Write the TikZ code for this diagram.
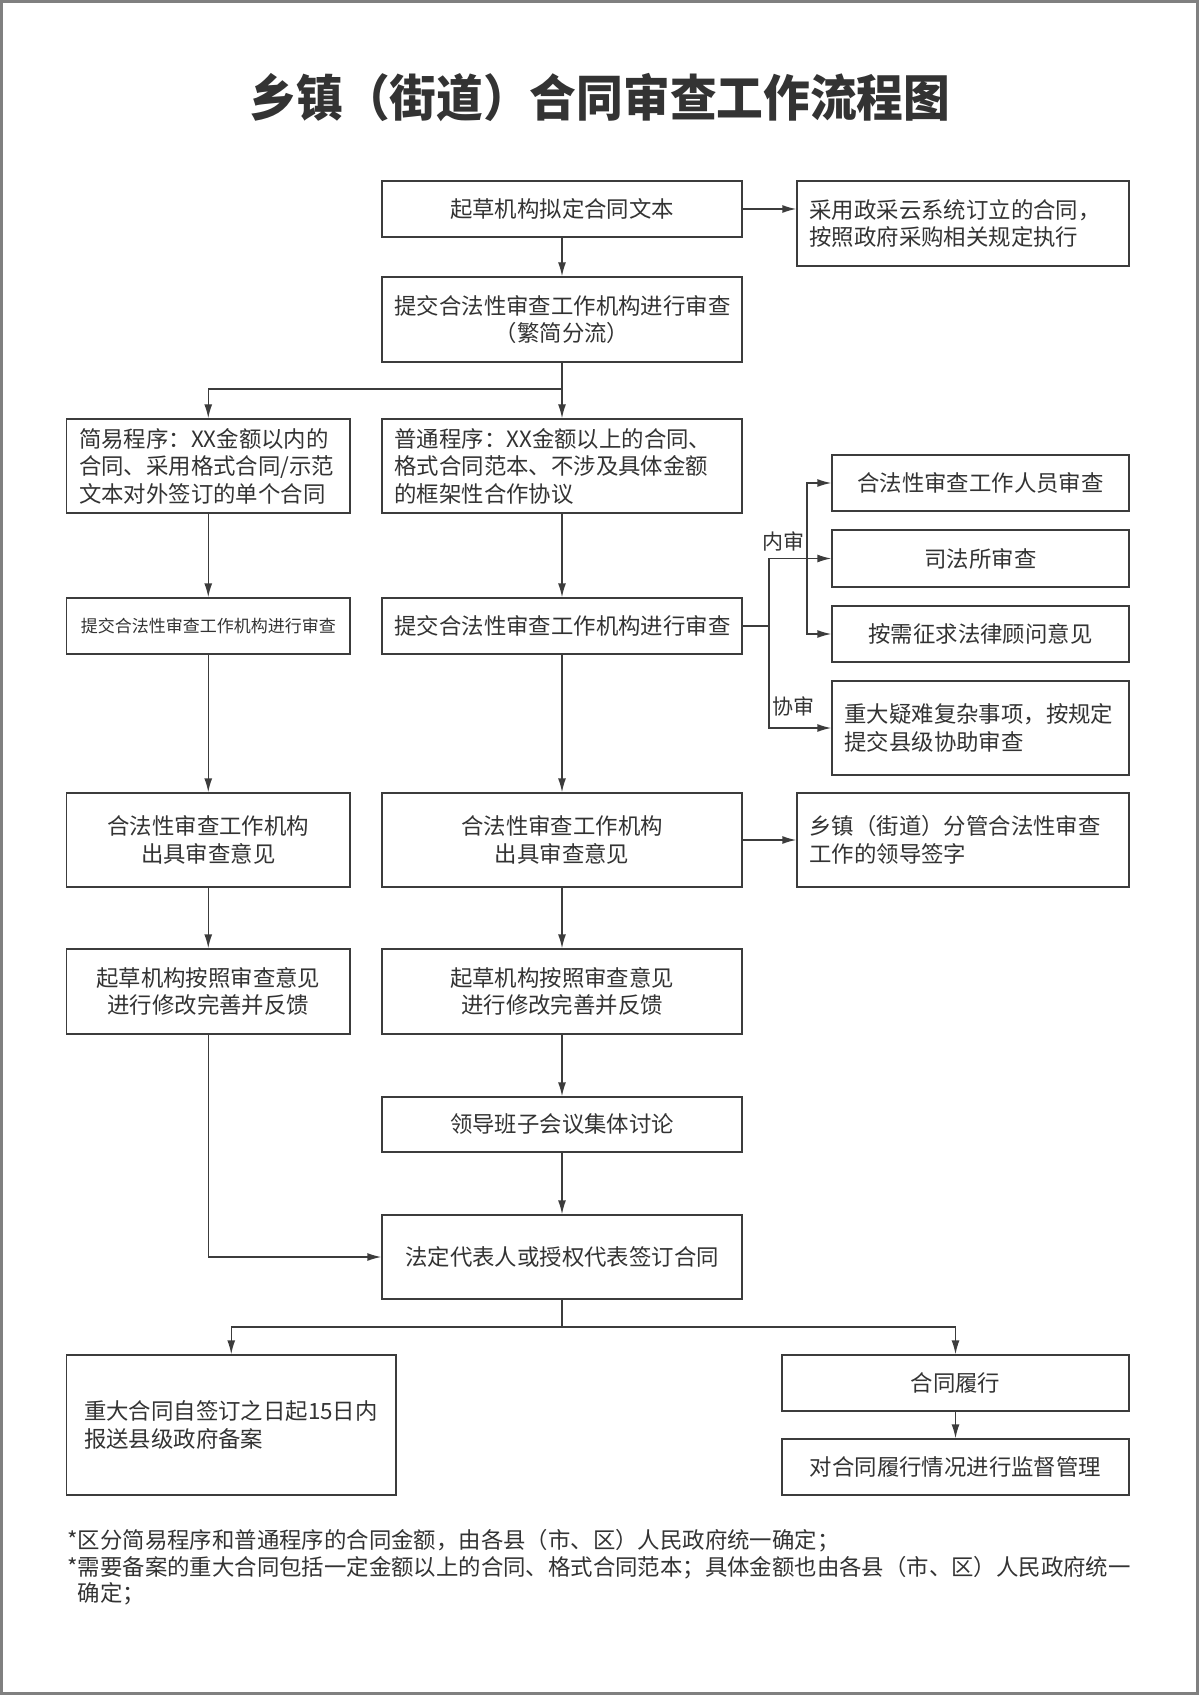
\documentclass[tikz,border=0pt]{standalone}
\usepackage{fontspec}
\setmainfont{Noto Sans CJK SC}
\usepackage{tikz}
\usetikzlibrary{
    arrows.meta,
    positioning,
    calc
}
\definecolor{linecol}{HTML}{3C3C3C}
\definecolor{textcol}{HTML}{333333}
\definecolor{framecol}{HTML}{808080}
\newcommand{\boxfont}{\fontsize{11.2}{13.75}\selectfont}
\newcommand{\smallboxfont}{\fontsize{8.5}{10.5}\selectfont}
\newcommand{\notefont}{\fontsize{11.2}{13.25}\selectfont}
\newcommand{\ttlfont}{\fontsize{24.85}{30}\selectfont\bfseries}
\tikzstyle{arrow} = [-{Latex[length=7pt,width=4pt]}, draw=linecol, line width=0.7pt]
\tikzstyle{conn} = [draw=linecol, line width=0.7pt]
\tikzstyle{box} = [draw=linecol, line width=0.7pt, text=textcol, font=\boxfont, inner xsep=6.25pt, inner ysep=0pt, align=center]
\tikzstyle{lbl} = [text=textcol, font=\fontsize{10.5}{12}\selectfont, inner sep=0pt]

\begin{document}
\begin{tikzpicture}[x=0.5pt, y=0.5pt]
    \useasboundingbox (0,0) rectangle (1199,-1695);
    \draw[framecol, line width=1.5pt] (1.5,-1.5) rectangle (1197.5,-1693.5);
    \node[text=textcol, font=\ttlfont, xscale=0.94, transform shape] (title) at (600,-98) {乡镇（街道）合同审查工作流程图};

    % top
    \node[box, text width=167.5pt, minimum height=28pt] (draft) at (562,-209) {起草机构拟定合同文本};
    \node[box, text width=153.5pt, minimum height=42.5pt, align=left] (zcy) at (963,-223.5) {采用政采云系统订立的合同，\\按照政府采购相关规定执行};
    \node[box, text width=167.5pt, minimum height=42.5pt] (submit) at (562,-319.5) {提交合法性审查工作机构进行审查\\（繁简分流）};

    % two procedures
    \node[box, text width=129.25pt, minimum height=47pt, align=left] (simple) at (208.25,-466) {简易程序：XX金额以内的\\合同、采用格式合同/示范\\文本对外签订的单个合同};
    \node[box, text width=167.5pt, minimum height=47pt, align=left] (normal) at (562,-466) {普通程序：XX金额以上的合同、\\格式合同范本、不涉及具体金额\\的框架性合作协议};
    \node[box, text width=129.25pt, minimum height=28pt, font=\smallboxfont] (simpsub) at (208.25,-626) {提交合法性审查工作机构进行审查};
    \node[box, text width=167.5pt, minimum height=28pt] (normsub) at (562,-626) {提交合法性审查工作机构进行审查};

    % review branches
    \node[box, text width=136pt, minimum height=28pt] (rev1) at (980.5,-483) {合法性审查工作人员审查};
    \node[box, text width=136pt, minimum height=28.5pt] (rev2) at (980.5,-558.5) {司法所审查};
    \node[box, text width=136pt, minimum height=28pt] (rev3) at (980.5,-634) {按需征求法律顾问意见};
    \node[box, text width=136pt, minimum height=47pt, align=left] (rev4) at (980.5,-728) {重大疑难复杂事项，按规定\\提交县级协助审查};
    \node[lbl] (inner) at (783,-541) {内审};
    \node[lbl] (assist) at (793,-706) {协审};

    % opinions
    \node[box, text width=129.25pt, minimum height=47pt] (simpop) at (208.25,-840) {合法性审查工作机构\\出具审查意见};
    \node[box, text width=167.5pt, minimum height=47pt] (normop) at (562,-840) {合法性审查工作机构\\出具审查意见};
    \node[box, text width=153.5pt, minimum height=47pt, align=left] (lead) at (963,-840) {乡镇（街道）分管合法性审查\\工作的领导签字};
    \node[box, text width=129.25pt, minimum height=42.5pt] (simprev) at (208.25,-991.5) {起草机构按照审查意见\\进行修改完善并反馈};
    \node[box, text width=167.5pt, minimum height=42.5pt] (normrev) at (562,-991.5) {起草机构按照审查意见\\进行修改完善并反馈};
    \node[box, text width=167.5pt, minimum height=27.5pt] (meeting) at (562,-1124.5) {领导班子会议集体讨论};
    \node[box, text width=167.5pt, minimum height=42pt] (sign) at (562,-1257) {法定代表人或授权代表签订合同};

    % bottom
    \node[box, text width=147.25pt, inner xsep=8.75pt, minimum height=70pt, align=left] (filing) at (231.25,-1425) {重大合同自签订之日起15日内\\报送县级政府备案};
    \node[box, text width=161pt, minimum height=28pt] (perf) at (955.5,-1383) {合同履行};
    \node[box, text width=161pt, minimum height=28pt] (superv) at (955.5,-1467) {对合同履行情况进行监督管理};

    % notes
    \node[anchor=base west, inner sep=0pt, text=textcol, font=\notefont] (note1) at (67,-1548.5) {*区分简易程序和普通程序的合同金额，由各县（市、区）人民政府统一确定；};
    \node[anchor=base west, inner sep=0pt, text=textcol, font=\notefont] (note2) at (67,-1575) {*需要备案的重大合同包括一定金额以上的合同、格式合同范本；具体金额也由各县（市、区）人民政府统一};
    \node[anchor=base west, inner sep=0pt, text=textcol, font=\notefont] (note3) at (67,-1601.5) {\phantom{*}确定；};

    % connectors
    \draw[arrow] (draft.east) -- (draft.east -| zcy.west);
    \draw[arrow] (draft) -- (submit);
    \coordinate (split1) at (562,-389);
    \draw[conn] (submit) -- (split1);
    \draw[arrow] (split1) -- (normal);
    \draw[arrow] (split1) -| (simple);
    \draw[arrow] (simple) -- (simpsub);
    \draw[arrow] (normal) -- (normsub);
    \coordinate (jn) at (769,-626);
    \draw[conn] (normsub.east) -- (jn);
    \draw[arrow] (jn) |- (rev2);
    \draw[arrow] (jn) |- (rev4);
    \coordinate (nsplit) at (807,-558.5);
    \draw[arrow] (nsplit) |- (rev1);
    \draw[arrow] (nsplit) |- (rev3);
    \draw[arrow] (simpsub) -- (simpop);
    \draw[arrow] (normsub) -- (normop);
    \draw[arrow] (normop) -- (lead);
    \draw[arrow] (simpop) -- (simprev);
    \draw[arrow] (normop) -- (normrev);
    \draw[arrow] (normrev) -- (meeting);
    \draw[arrow] (meeting) -- (sign);
    \draw[arrow] (simprev) |- (sign);
    \coordinate (split2) at (562,-1327);
    \draw[conn] (sign) -- (split2);
    \draw[arrow] (split2) -| (filing);
    \draw[arrow] (split2) -| (perf);
    \draw[arrow] (perf) -- (superv);
\end{tikzpicture}
\end{document}
